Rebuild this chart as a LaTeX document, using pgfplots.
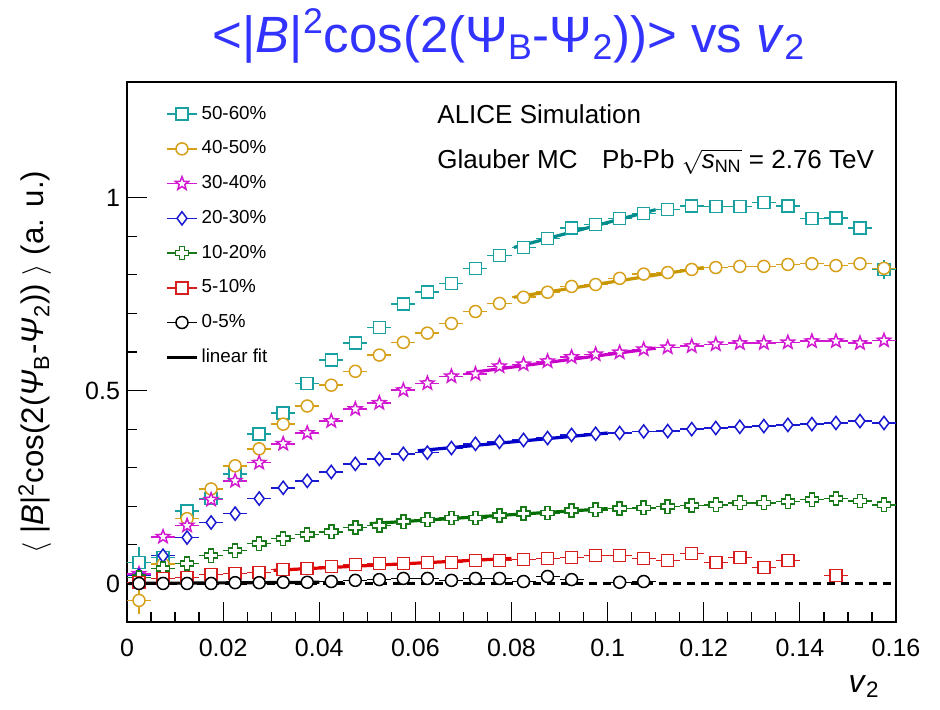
\documentclass[border=0pt]{standalone}
\usepackage{pgfplots}
\pgfplotsset{compat=1.18}
\usepackage{pgfplotstable}
\usepackage{fontspec}
\setmainfont{Liberation Sans}

\definecolor{c50}{RGB}{25,160,160}
\definecolor{c40}{RGB}{215,160,25}
\definecolor{c30}{RGB}{210,25,210}
\definecolor{c20}{RGB}{25,25,210}
\definecolor{c10}{RGB}{25,120,25}
\definecolor{c05}{RGB}{215,30,30}
\definecolor{f50}{RGB}{0,140,140}
\definecolor{f40}{RGB}{200,150,0}
\definecolor{f30}{RGB}{200,0,200}
\definecolor{f20}{RGB}{0,0,200}
\definecolor{f10}{RGB}{0,110,0}
\definecolor{f05}{RGB}{225,0,0}
\definecolor{titleblue}{RGB}{51,51,255}

\pgfdeclareplotmark{ostar}{%
  \pgfpathmoveto{\pgfqpointpolar{90}{\pgfplotmarksize}}%
  \pgfpathlineto{\pgfqpointpolar{126}{0.42\pgfplotmarksize}}%
  \pgfpathlineto{\pgfqpointpolar{162}{\pgfplotmarksize}}%
  \pgfpathlineto{\pgfqpointpolar{198}{0.42\pgfplotmarksize}}%
  \pgfpathlineto{\pgfqpointpolar{234}{\pgfplotmarksize}}%
  \pgfpathlineto{\pgfqpointpolar{270}{0.42\pgfplotmarksize}}%
  \pgfpathlineto{\pgfqpointpolar{306}{\pgfplotmarksize}}%
  \pgfpathlineto{\pgfqpointpolar{342}{0.42\pgfplotmarksize}}%
  \pgfpathlineto{\pgfqpointpolar{18}{\pgfplotmarksize}}%
  \pgfpathlineto{\pgfqpointpolar{54}{0.42\pgfplotmarksize}}%
  \pgfpathclose\pgfusepathqfillstroke}
\pgfdeclareplotmark{ocross}{%
  \pgfpathmoveto{\pgfqpoint{-0.38\pgfplotmarksize}{\pgfplotmarksize}}%
  \pgfpathlineto{\pgfqpoint{0.38\pgfplotmarksize}{\pgfplotmarksize}}%
  \pgfpathlineto{\pgfqpoint{0.38\pgfplotmarksize}{0.38\pgfplotmarksize}}%
  \pgfpathlineto{\pgfqpoint{\pgfplotmarksize}{0.38\pgfplotmarksize}}%
  \pgfpathlineto{\pgfqpoint{\pgfplotmarksize}{-0.38\pgfplotmarksize}}%
  \pgfpathlineto{\pgfqpoint{0.38\pgfplotmarksize}{-0.38\pgfplotmarksize}}%
  \pgfpathlineto{\pgfqpoint{0.38\pgfplotmarksize}{-\pgfplotmarksize}}%
  \pgfpathlineto{\pgfqpoint{-0.38\pgfplotmarksize}{-\pgfplotmarksize}}%
  \pgfpathlineto{\pgfqpoint{-0.38\pgfplotmarksize}{-0.38\pgfplotmarksize}}%
  \pgfpathlineto{\pgfqpoint{-\pgfplotmarksize}{-0.38\pgfplotmarksize}}%
  \pgfpathlineto{\pgfqpoint{-\pgfplotmarksize}{0.38\pgfplotmarksize}}%
  \pgfpathlineto{\pgfqpoint{-0.38\pgfplotmarksize}{0.38\pgfplotmarksize}}%
  \pgfpathclose\pgfusepathqfillstroke}

\pgfplotsset{
  myser/.style={only marks, color=#1, line width=0.75pt, mark size=3pt,
    mark options={fill=white, draw=#1, solid, line width=0.75pt},
    error bars/x dir=both, error bars/x fixed=0.0025,
    error bars/y dir=both, error bars/y explicit,
    error bars/error mark=none,
    error bars/error bar style={line width=0.75pt, draw=#1}},
  myfit/.style={forget plot, color=#1, line width=1.6pt, no marks},
}

% x  y  e   (x = bin centres, bin width 0.005)
\pgfplotstableread{
x y e
0.0025 0.054 0.04
0.0075 0.067 0.015
0.0125 0.188 0.01
0.0175 0.220 0
0.0225 0.284 0
0.0275 0.387 0
0.0325 0.442 0
0.0375 0.519 0
0.0425 0.579 0
0.0475 0.623 0
0.0525 0.664 0
0.0575 0.724 0
0.0625 0.755 0
0.0675 0.778 0
0.0725 0.817 0
0.0775 0.850 0
0.0825 0.871 0
0.0875 0.894 0
0.0925 0.922 0
0.0975 0.930 0
0.1025 0.946 0
0.1075 0.959 0
0.1125 0.969 0
0.1175 0.979 0
0.1225 0.977 0
0.1275 0.977 0
0.1325 0.987 0
0.1375 0.979 0
0.1425 0.946 0
0.1475 0.948 0
0.1525 0.922 0.01
0.1575 0.814 0.025
}\tA
\pgfplotstableread{
x y e
0.0025 -0.044 0.035
0.0075 0.050 0.02
0.0125 0.168 0.01
0.0175 0.245 0
0.0225 0.305 0
0.0275 0.349 0
0.0325 0.413 0
0.0375 0.460 0
0.0425 0.514 0
0.0475 0.550 0
0.0525 0.592 0
0.0575 0.625 0
0.0625 0.649 0
0.0675 0.674 0
0.0725 0.705 0
0.0775 0.726 0
0.0825 0.742 0
0.0875 0.755 0
0.0925 0.770 0
0.0975 0.775 0
0.1025 0.791 0
0.1075 0.802 0
0.1125 0.806 0
0.1175 0.814 0
0.1225 0.819 0
0.1275 0.822 0
0.1325 0.822 0
0.1375 0.827 0
0.1425 0.829 0
0.1475 0.824 0
0.1525 0.829 0
0.1575 0.817 0.015
}\tB
\pgfplotstableread{
x y e
0.0025 0.025 0.02
0.0075 0.121 0
0.0125 0.150 0
0.0175 0.217 0
0.0225 0.266 0
0.0275 0.313 0
0.0325 0.362 0
0.0375 0.390 0
0.0425 0.421 0
0.0475 0.452 0
0.0525 0.468 0
0.0575 0.501 0
0.0625 0.519 0
0.0675 0.537 0
0.0725 0.543 0
0.0775 0.563 0
0.0825 0.568 0
0.0875 0.576 0
0.0925 0.587 0
0.0975 0.594 0
0.1025 0.599 0
0.1075 0.607 0
0.1125 0.612 0
0.1175 0.615 0
0.1225 0.620 0
0.1275 0.623 0
0.1325 0.623 0
0.1375 0.625 0
0.1425 0.628 0
0.1475 0.628 0
0.1525 0.623 0
0.1575 0.630 0
}\tC
\pgfplotstableread{
x y e
0.0025 0.020 0.02
0.0075 0.072 0.01
0.0125 0.119 0
0.0175 0.158 0
0.0225 0.181 0
0.0275 0.220 0
0.0325 0.248 0
0.0375 0.266 0
0.0425 0.289 0
0.0475 0.310 0
0.0525 0.323 0
0.0575 0.336 0
0.0625 0.339 0
0.0675 0.351 0
0.0725 0.362 0
0.0775 0.367 0
0.0825 0.372 0
0.0875 0.377 0
0.0925 0.385 0
0.0975 0.388 0
0.1025 0.390 0
0.1075 0.394 0
0.1125 0.395 0
0.1175 0.400 0
0.1225 0.403 0
0.1275 0.406 0
0.1325 0.408 0
0.1375 0.411 0
0.1425 0.413 0
0.1475 0.416 0
0.1525 0.421 0
0.1575 0.416 0
}\tD
\pgfplotstableread{
x y e
0.0025 0.015 0.01
0.0075 0.039 0
0.0125 0.052 0
0.0175 0.072 0
0.0225 0.085 0
0.0275 0.103 0
0.0325 0.116 0
0.0375 0.127 0
0.0425 0.134 0
0.0475 0.145 0
0.0525 0.150 0
0.0575 0.160 0
0.0625 0.165 0
0.0675 0.170 0
0.0725 0.170 0
0.0775 0.176 0
0.0825 0.181 0
0.0875 0.183 0
0.0925 0.189 0
0.0975 0.191 0
0.1025 0.194 0
0.1075 0.196 0
0.1125 0.199 0
0.1175 0.202 0
0.1225 0.204 0
0.1275 0.209 0
0.1325 0.209 0
0.1375 0.212 0
0.1425 0.217 0
0.1475 0.220 0
0.1525 0.214 0
0.1575 0.204 0
}\tE
\pgfplotstableread{
x y e
0.0025 0.003 0.01
0.0075 0.013 0
0.0125 0.016 0
0.0175 0.023 0
0.0225 0.026 0
0.0275 0.028 0
0.0325 0.036 0
0.0375 0.039 0
0.0425 0.044 0
0.0475 0.049 0
0.0525 0.052 0
0.0575 0.052 0
0.0625 0.054 0
0.0675 0.054 0
0.0725 0.059 0
0.0775 0.059 0
0.0825 0.062 0
0.0875 0.065 0
0.0925 0.067 0
0.0975 0.072 0
0.1025 0.072 0
0.1075 0.065 0
0.1125 0.059 0
0.1175 0.078 0
0.1225 0.054 0
0.1275 0.067 0
0.1325 0.041 0
0.1375 0.059 0
0.1475 0.021 0
}\tF
\pgfplotstableread{
x y e
0.0025 0.000 0
0.0075 0.000 0
0.0125 0.000 0
0.0175 0.000 0
0.0225 0.002 0
0.0275 0.002 0
0.0325 0.003 0
0.0375 0.003 0
0.0425 0.005 0
0.0475 0.008 0
0.0525 0.010 0
0.0575 0.013 0
0.0625 0.013 0
0.0675 0.008 0
0.0725 0.013 0
0.0775 0.013 0
0.0825 0.005 0
0.0875 0.018 0
0.0925 0.010 0
0.1025 0.003 0
0.1075 0.005 0
}\tG

\begin{document}
\begin{tikzpicture}
\useasboundingbox (-63.5pt,-43.5pt) rectangle (406.5pt,311pt);
\begin{axis}[
  scale only axis, width=384.5pt, height=270pt,
  xmin=0, xmax=0.16, ymin=-0.1, ymax=1.3,
  axis line style={line width=0.9pt},
  xtick={0,0.02,0.04,0.06,0.08,0.1,0.12,0.14,0.16},
  xticklabels={0,0.02,0.04,0.06,0.08,0.1,0.12,0.14,0.16},
  ytick={0,0.5,1}, yticklabels={0,0.5,1},
  minor x tick num=3, minor y tick num=4,
  xtick pos=left, ytick pos=left,
  tick align=inside,
  major tick length=10pt, minor tick length=5pt,
  tick style={black, line width=0.6pt},
  ticklabel style={font=\fontsize{12.5}{14}\selectfont},
  xticklabel style={yshift=-5pt},
  /pgf/number format/assume math mode=true,
  legend image code/.code={\draw[mark repeat=2,mark phase=2,#1,sharp plot] plot coordinates {(0pt,0pt)(7.5pt,0pt)(15pt,0pt)};},
  legend style={at={(axis description cs:0.0494,0.958)}, anchor=north west,
    draw=none, fill=none, inner sep=0pt, row sep=8.3pt, column sep=1pt,
    font=\fontsize{9.4}{11}\selectfont, nodes={inner sep=0.5pt}},
  legend cell align=left,
]
\addplot[forget plot, black, line width=1.1pt, dash pattern=on 4pt off 3pt, no marks] coordinates {(0,0) (0.16,0)};

\addplot[mark=square*, myser=c50] table[x=x,y=y,y error=e] {\tA};
\addlegendentry{50-60\%}
\addplot[mark=*, myser=c40] table[x=x,y=y,y error=e] {\tB};
\addlegendentry{40-50\%}
\addplot[mark=ostar, myser=c30, mark size=3.5pt] table[x=x,y=y,y error=e] {\tC};
\addlegendentry{30-40\%}
\addplot[mark=diamond*, myser=c20, mark size=3.3pt] table[x=x,y=y,y error=e] {\tD};
\addlegendentry{20-30\%}
\addplot[mark=ocross, myser=c10, mark size=3.3pt] table[x=x,y=y,y error=e] {\tE};
\addlegendentry{10-20\%}
\addplot[mark=square*, myser=c05] table[x=x,y=y,y error=e] {\tF};
\addlegendentry{5-10\%}
\addplot[mark=*, myser=black] table[x=x,y=y,y error=e] {\tG};
\addlegendentry{0-5\%}

\addplot[myfit=f50] coordinates {(0.0805,0.871) (0.110,0.969)};
\addplot[myfit=f40] coordinates {(0.0805,0.742) (0.120,0.819)};
\addplot[myfit=f30] coordinates {(0.0705,0.545) (0.110,0.610)};
\addplot[myfit=f20] coordinates {(0.0605,0.344) (0.100,0.390)};
\addplot[myfit=f10] coordinates {(0.0505,0.155) (0.100,0.194)};
\addplot[myfit=f05] coordinates {(0.0305,0.034) (0.080,0.065)};
\addplot[myfit=black] coordinates {(0.0005,0.000) (0.040,0.003)};

\addlegendimage{black, line width=1.6pt, no marks, sharp plot}
\addlegendentry{linear fit}
\end{axis}

\node[anchor=base west, inner sep=0pt, font=\fontsize{13}{15}\selectfont] at (155pt,249.5pt) {ALICE Simulation};
\node[anchor=base west, inner sep=0pt, font=\fontsize{13}{15}\selectfont] at (155pt,227pt)
  {Glauber MC\hspace{0.95em}Pb-Pb $\sqrt{\mbox{\textit{s}}_{\mbox{\fontsize{9}{10}\selectfont NN}}}$ = 2.76 TeV};
\node[anchor=base, inner sep=0pt, font=\fontsize{25.5}{30}\selectfont, text=titleblue] at (191pt,285pt)
  {<|\textit{B}|\textsuperscript{2}cos(2(Ψ\textsubscript{B}-Ψ\textsubscript{2}))> vs \textit{v}\textsubscript{2}};
\node[anchor=base, rotate=90, inner sep=0pt, font=\fontsize{15.6}{18}\selectfont] at (-41.5pt,130pt)
  {$\langle$ |\textit{B}|\textsuperscript{2}cos(2(\textit{Ψ}\textsubscript{B}-\textit{Ψ}\textsubscript{2})) $\rangle$ (a. u.)};
\node[anchor=base east, inner sep=0pt, font=\fontsize{16}{18}\selectfont] at (376.5pt,-35pt) {\textit{v}\textsubscript{2}};
\end{tikzpicture}
\end{document}
